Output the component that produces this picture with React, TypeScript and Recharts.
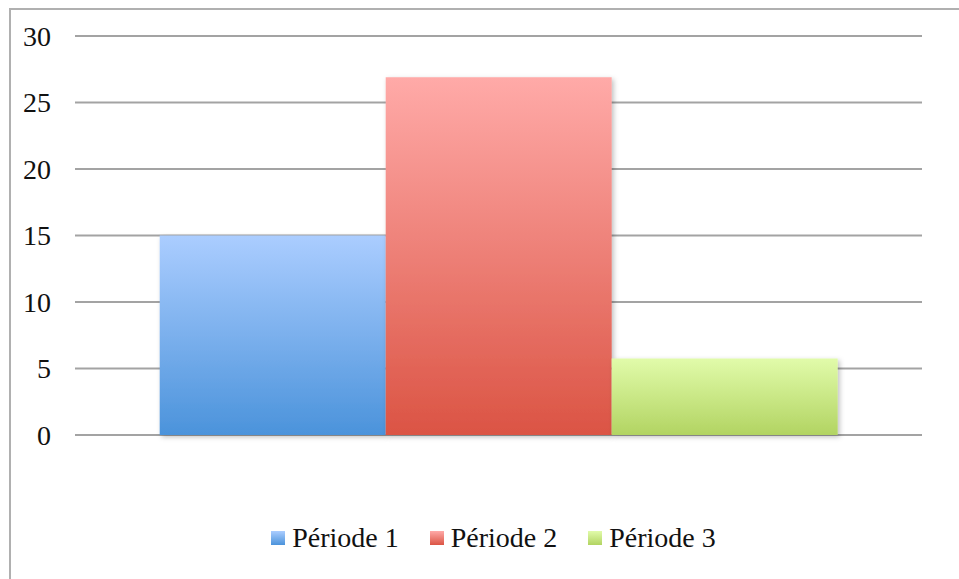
import React from "react";
import { BarChart, Bar, XAxis, YAxis, CartesianGrid } from "recharts";

const categories = [""];
const periode1 = [15];
const periode2 = [26.9];
const periode3 = [5.75];
const yTicks = [0, 5, 10, 15, 20, 25, 30];
const seriesNames = ["Période 1", "Période 2", "Période 3"];

const data = categories.map((c, i) => ({
  name: c,
  p1: periode1[i],
  p2: periode2[i],
  p3: periode3[i],
}));

const FONT = "'Liberation Serif', 'DejaVu Serif', serif";

const gradients = [
  { id: "g1", top: "#abcdff", bottom: "#4b93db" },
  { id: "g2", top: "#ffaaa8", bottom: "#db5444" },
  { id: "g3", top: "#e1fbaa", bottom: "#b2d462" },
];

const LegendContent = () => (
  <div
    style={{
      display: "flex",
      justifyContent: "center",
      alignItems: "center",
      fontFamily: FONT,
      fontSize: 28,
      color: "#111",
      lineHeight: "32px",
    }}
  >
    {seriesNames.map((n, i) => (
      <div key={n} style={{ display: "flex", alignItems: "center", marginRight: i < 2 ? 31 : 0 }}>
        <div
          style={{
            width: 14,
            height: 14,
            background: `linear-gradient(${gradients[i].top}, ${gradients[i].bottom})`,
            marginRight: 7,
          }}
        />
        <span>{n}</span>
      </div>
    ))}
  </div>
);

export default function App() {
  return (
    <div style={{ position: "absolute", left: 0, top: 0, width: 959, height: 579, background: "#fff", overflow: "hidden" }}>
      <div
        style={{
          position: "absolute",
          left: 9,
          top: 8,
          width: 980,
          height: 600,
          borderLeft: "2px solid #b0b0b0",
          borderTop: "2px solid #b0b0b0",
        }}
      />
      <div style={{ position: "absolute", left: 0, top: 0 }}>
        <BarChart
          width={959}
          height={579}
          data={data}
          margin={{ top: 36, right: 37, bottom: 144, left: 0 }}
          barCategoryGap="10%"
          barGap={0}
        >
          <defs>
            {gradients.map((g) => (
              <linearGradient key={g.id} id={g.id} x1="0" y1="0" x2="0" y2="1">
                <stop offset="0%" stopColor={g.top} />
                <stop offset="100%" stopColor={g.bottom} />
              </linearGradient>
            ))}
            <filter id="shadow" x="-10%" y="-10%" width="130%" height="130%">
              <feDropShadow dx="2" dy="2" stdDeviation="2.5" floodColor="#000" floodOpacity="0.25" />
            </filter>
          </defs>
          <CartesianGrid vertical={false} stroke="#a3a3a3" strokeWidth={2} />
          <XAxis dataKey="name" hide />
          <YAxis
            width={75}
            domain={[0, 30]}
            ticks={yTicks}
            axisLine={false}
            tickLine={false}
            tickSize={0}
            tickMargin={24}
            tick={{ fill: "#111", fontSize: 28, fontFamily: FONT }}
          />
          <Bar dataKey="p1" name={seriesNames[0]} fill="url(#g1)" filter="url(#shadow)" isAnimationActive={false} />
          <Bar dataKey="p2" name={seriesNames[1]} fill="url(#g2)" filter="url(#shadow)" isAnimationActive={false} />
          <Bar dataKey="p3" name={seriesNames[2]} fill="url(#g3)" filter="url(#shadow)" isAnimationActive={false} />
        </BarChart>
      </div>
      <div style={{ position: "absolute", left: 70, width: 847, top: 522 }}>
        <LegendContent />
      </div>
    </div>
  );
}
